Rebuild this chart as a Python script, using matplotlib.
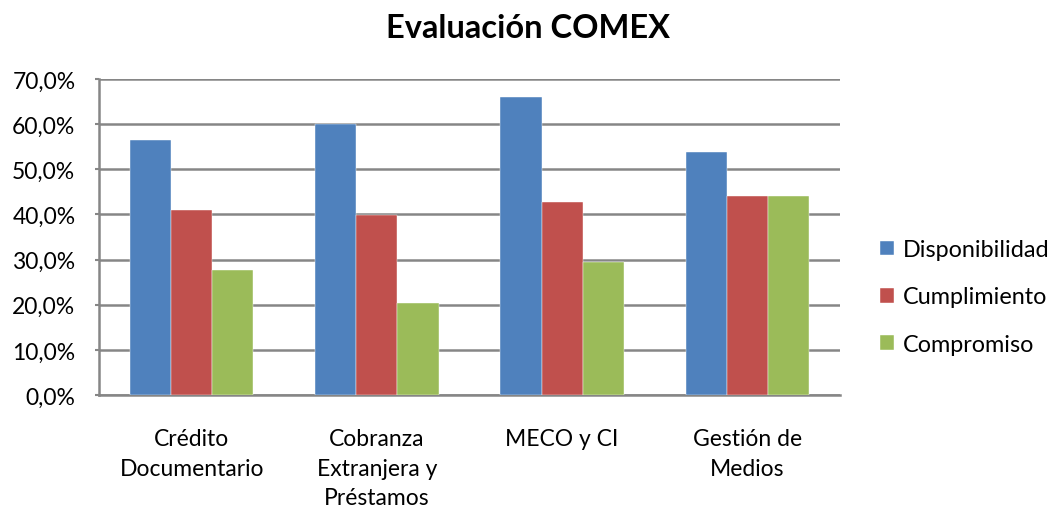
import matplotlib
matplotlib.use("Agg")
import matplotlib.pyplot as plt
import numpy as np
from matplotlib.ticker import FuncFormatter

plt.rcParams['font.family'] = ['Lato', 'DejaVu Sans']

categories = ["Crédito\nDocumentario", "Cobranza\nExtranjera y\nPréstamos", "MECO y CI", "Gestión de\nMedios"]
series_names = ["Disponibilidad", "Cumplimiento", "Compromiso"]
disponibilidad = [56.5, 60.1, 66.0, 53.9]
cumplimiento = [41.0, 39.9, 42.7, 44.0]
compromiso = [27.7, 20.3, 29.4, 44.0]
y_ticks = [0, 10, 20, 30, 40, 50, 60, 70]

colors = ["#4F81BD", "#C0504D", "#9BBB59"]
grid_color = "#868686"

fig = plt.figure(figsize=(10.5, 5.1), dpi=100)
ax = fig.add_axes([99 / 1050, 1 - 396 / 510, (840 - 99) / 1050, (396 - 80) / 510])

x = np.arange(len(categories))
width = 1 / 4.5
values = [disponibilidad, cumplimiento, compromiso]
handles = []
for i, (vals, name, c) in enumerate(zip(values, series_names, colors)):
    h = ax.bar(x + (i - 1) * width, vals, width, color=c, label=name, zorder=3,
               edgecolor="white", linewidth=0.3)
    handles.append(h)

ax.set_xlim(-0.5, len(categories) - 0.5)
ax.set_ylim(0, 70)
ax.set_yticks(y_ticks)
ax.yaxis.set_major_formatter(FuncFormatter(lambda v, p: f"{v:.1f}%".replace(".", ",")))
ax.yaxis.grid(True, color=grid_color, linewidth=1.8, zorder=0)
ax.set_axisbelow(True)

for s in ["top", "right"]:
    ax.spines[s].set_visible(False)
for s in ["left", "bottom"]:
    ax.spines[s].set_color(grid_color)
    ax.spines[s].set_linewidth(1.8)

ax.tick_params(axis="y", length=3, width=1.5, color=grid_color, labelsize=16.5, pad=14,
               labelcolor="#000000")
ax.set_xticks(x)
ax.set_xticklabels(categories, fontsize=16.5, linespacing=1.5, va="top")
ax.tick_params(axis="x", length=0, pad=24)

fig.text(0.503, 0.945, "Evaluación COMEX", ha="center", va="center",
         fontsize=23.5, fontweight="bold")

leg = fig.legend(handles=handles, labels=series_names, loc="center left",
                 bbox_to_anchor=(880 / 1050, 1 - 298 / 510), frameon=False,
                 fontsize=16.8, handlelength=0.6, handleheight=0.6, handletextpad=0.4,
                 labelspacing=1.13, borderpad=0, borderaxespad=0)

fig.savefig("out.png", dpi=100)
